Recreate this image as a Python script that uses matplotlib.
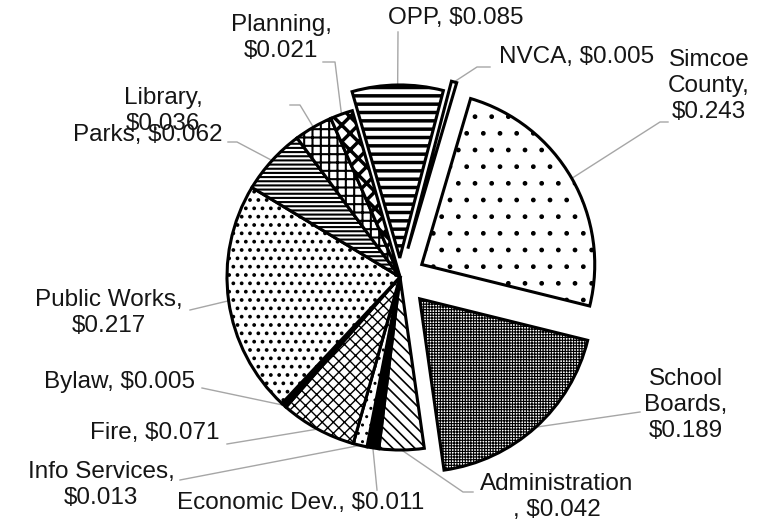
import numpy as np
import matplotlib
matplotlib.use("Agg")
import matplotlib.pyplot as plt

# tax dollar split, clockwise from the top
names = ["OPP", "NVCA", "Simcoe County", "School Boards", "Administration",
         "Economic Dev.", "Info Services", "Fire", "Bylaw", "Public Works",
         "Parks", "Library", "Planning"]
values = [0.085, 0.005, 0.243, 0.189, 0.042, 0.011, 0.013, 0.071, 0.005,
          0.217, 0.062, 0.036, 0.021]
label_texts = ["OPP, $0.085", "NVCA, $0.005", "Simcoe\nCounty,\n$0.243",
               "School\nBoards,\n$0.189", "Administration\n, $0.042",
               "Economic Dev., $0.011", "Info Services,\n$0.013",
               "Fire, $0.071", "Bylaw, $0.005", "Public Works,\n$0.217",
               "Parks, $0.062", "Library,\n$0.036", "Planning,\n$0.021"]

explode = [0.11, 0.17, 0.145, 0.17, 0, 0, 0, 0, 0, 0, 0, 0, 0]

# (hatch, hatch linewidth, facecolor)
styles = [("--", 2.5, "white"), (None, 1.0, "white"), (".", 1.0, "white"),
          ("++++++", 0.8, "white"), ("\\\\\\", 1.2, "white"), (None, 1.0, "black"),
          ("..", 1.0, "white"), ("xxx", 1.0, "white"), (None, 1.0, "black"),
          ("..", 1.5, "white"), ("----", 1.5, "white"), ("++", 1.5, "white"),
          ("xx", 2.5, "white")]

# label layout in pixels: text centre, leader start, elbow (or None)
label_pos = [(456, 18), (577, 57), (709, 86), (686, 405), (557, 497),
             (301, 503), (101, 485), (155, 433), (120, 382), (109, 313),
             (148, 135), (163, 111), (281, 38)]
leader_start = [(398, 32), (490, 67), (668, 122), (640, 412), (473, 492),
                (377, 490), (180, 480), (227, 444), (202, 388), (190, 310),
                (228, 142), (290, 105), (323, 62)]
leader_elbow = [None, (477, 67), (660, 122), None, (463, 492),
                None, None, None, None, None,
                (237, 142), (300, 105), (335, 62)]

W, H = 779, 523
CX, CY, R = 400, 277, 173


def px(p):
    return ((p[0] - CX) / R, (CY - p[1]) / R)


fig = plt.figure(figsize=(W / 100, H / 100), dpi=100)
ax = fig.add_axes([0, 0, 1, 1])

wedges, _ = ax.pie(values, startangle=106, counterclock=False, explode=explode,
                   radius=1.0, center=(0, 0),
                   wedgeprops=dict(edgecolor="black", linewidth=2.2))

for w, (hatch, hlw, fc) in zip(wedges, styles):
    w.set_facecolor(fc)
    if hatch:
        w.set_hatch(hatch)
        if hasattr(w, "set_hatch_linewidth"):
            w.set_hatch_linewidth(hlw)

for w, txt, lp, ls, le in zip(wedges, label_texts, label_pos, leader_start, leader_elbow):
    mid = np.deg2rad((w.theta1 + w.theta2) / 2)
    cx, cy = w.center
    arc = (cx + w.r * np.cos(mid), cy + w.r * np.sin(mid))
    pts = [px(ls)] + ([px(le)] if le else []) + [arc]
    ax.plot([p[0] for p in pts], [p[1] for p in pts], color="#a6a6a6",
            lw=1.0, zorder=0)
    x, y = px(lp)
    ax.text(x, y, txt, ha="center", va="center", fontsize=17.5,
            family="Liberation Sans", linespacing=1.22, color="#151515")

ax.set_aspect("auto")
ax.set_xlim(-CX / R, (W - CX) / R)
ax.set_ylim(-(H - CY) / R, CY / R)
ax.axis("off")

fig.savefig("out.png", dpi=100)
